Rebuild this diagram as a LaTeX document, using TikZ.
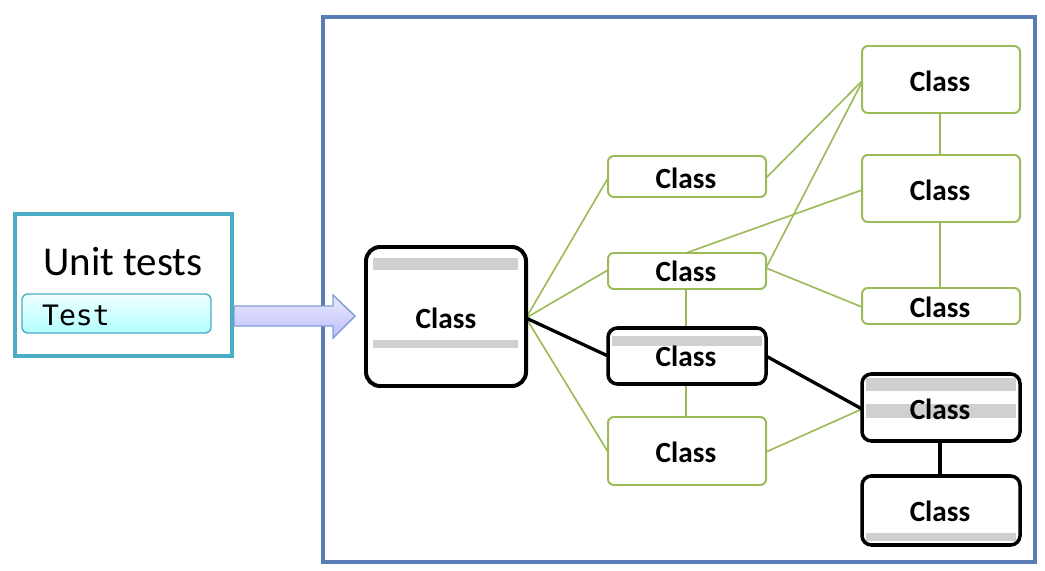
\documentclass[tikz,border=0pt]{standalone}
\usepackage{fontspec}
\setmainfont{Carlito}
\setmonofont{DejaVu Sans Mono}
\definecolor{frame}{HTML}{5B7DB5}
\definecolor{teal}{HTML}{4BACC6}
\definecolor{grn}{HTML}{9BBB59}
\definecolor{bar}{HTML}{D0D0D0}
\begin{document}
\begin{tikzpicture}[x=0.03cm,y=-0.03cm,
 gbox/.style={draw=grn,line width=1.7pt,rounded corners=5pt,fill=white},
 bbox/.style={draw=black,line width=3pt,rounded corners=8pt,fill=white},
 lbl/.style={font=\bfseries\fontsize{25}{26}\selectfont},
 gl/.style={draw=grn,line width=1.4pt},
 bl/.style={draw=black,line width=2.8pt}]
\useasboundingbox (0,0) rectangle (1045,571);
\draw[frame,line width=3.4pt] (323,17) rectangle (1035,562);
\draw[teal,line width=4pt] (15,214) rectangle (232,356);
\node[font=\fontsize{35}{38}\selectfont] (ut) at (123,262) {Unit tests};
\draw[teal,line width=1.2pt,rounded corners=5pt,top color=cyan!6,bottom color=cyan!30] (22,294) rectangle (211,333);
\node[font=\ttfamily\fontsize{24}{26}\selectfont,anchor=west] (test) at (38,315) {Test};
\draw[draw={rgb,255:red,127;green,159;blue,214},line width=1.2pt,top color=blue!8,bottom color=blue!25]
 (234,306) -- (333,306) -- (333,295) -- (355,316) -- (333,338) -- (333,326) -- (234,326) -- cycle;
% edges
\coordinate (mr) at (526,318);
\draw[gl] (mr) -- (608,178); \draw[gl] (mr) -- (608,270); \draw[gl] (mr) -- (608,452);
\draw[gl] (766,178) -- (862,81); \draw[gl] (766,268) -- (862,82);
\draw[gl] (686,253) -- (862,190); \draw[gl] (766,268) -- (862,307);
\draw[gl] (940,113) -- (940,155); \draw[gl] (940,222) -- (940,288);
\draw[gl] (686,289) -- (686,328); \draw[gl] (686,384) -- (686,417);
\draw[gl] (766,452) -- (862,409);
\draw[bl] (mr) -- (608,356); \draw[bl] (766,356) -- (862,409); \draw[bl] (940,441) -- (940,476);
% main class
\draw[bbox,line width=3.4pt,rounded corners=12pt] (366,247) rectangle (526,386);
\fill[bar] (373,258) rectangle (518,270); \fill[bar] (373,340) rectangle (518,348);
\node[lbl] (m) at (446,318) {Class};
% green boxes
\draw[gbox] (608,156) rectangle (766,197); \node[lbl] (a) at (686,178) {Class};
\draw[gbox] (608,253) rectangle (766,289); \node[lbl] (b) at (686,271) {Class};
\draw[gbox] (608,417) rectangle (766,485); \node[lbl] (d) at (686,452) {Class};
\draw[gbox] (862,46) rectangle (1020,113); \node[lbl] (r1) at (940,81) {Class};
\draw[gbox] (862,155) rectangle (1020,222); \node[lbl] (r2) at (940,190) {Class};
\draw[gbox] (862,288) rectangle (1020,324); \node[lbl] (r3) at (940,307) {Class};
% black boxes
\draw[bbox] (608,328) rectangle (766,384); \fill[bar] (612,336) rectangle (762,346); \node[lbl] (c) at (686,356) {Class};
\draw[bbox] (862,374) rectangle (1020,441); \fill[bar] (866,378) rectangle (1016,391); \fill[bar] (866,404) rectangle (1016,418); \node[lbl] (r4) at (940,409) {Class};
\draw[bbox] (862,476) rectangle (1020,545); \fill[bar] (866,533) rectangle (1016,541); \node[lbl] (r5) at (940,511) {Class};
\end{tikzpicture}
\end{document}
